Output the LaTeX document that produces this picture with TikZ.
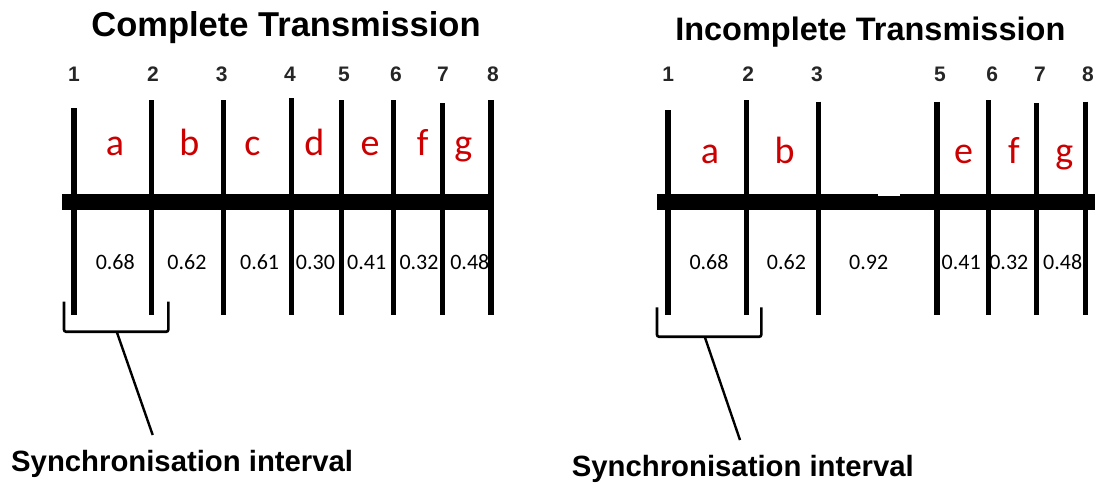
\documentclass[tikz,border=0pt]{standalone}
\usepackage{fontspec}
\setmainfont{Liberation Sans}
\newfontfamily\calib{Carlito}
\definecolor{redlbl}{RGB}{204,0,0}
\begin{document}
\begin{tikzpicture}[x=1pt,y=-1pt,
  tick/.style={line width=5.5pt},
  bar/.style={line width=16pt},
  thinbar/.style={line width=14pt},
  brk/.style={line width=2.6pt, rounded corners=2pt},
  lead/.style={line width=2.4pt},
  lab/.style={font=\bfseries\fontsize{21}{24}\selectfont, text=black!85, inner sep=0pt},
  seg/.style={font=\calib\fontsize{38}{44}\selectfont, text=redlbl, inner sep=0pt, anchor=base},
  val/.style={font=\calib\fontsize{22}{26}\selectfont, inner sep=0pt},
  ttl/.style={font=\bfseries, inner sep=0pt, anchor=base},
  sync/.style={font=\bfseries\fontsize{29.3}{34}\selectfont, inner sep=0pt, anchor=base west}]
\useasboundingbox (0,0) rectangle (1095,482);
\clip (0,0) rectangle (1095,482);

% ---------- Complete Transmission ----------
\node[ttl, font=\bfseries\fontsize{34.5}{40}\selectfont] (t1) at (286,36.7) {Complete Transmission};
\foreach \x/\t/\n in {74/108.3/1, 151.7/100/2, 223.3/100/3, 291.7/98.3/4, 341.7/100/5, 393.3/100/6, 442.3/103.3/7, 491/100/8}{
  \draw[tick] (\x,\t) -- (\x,315);
}
\draw[bar] (62.4,202) -- (494,202);
\foreach \x/\n in {74/1, 153/2, 221.7/3, 290/4, 344/5, 396/6, 443/7, 493/8}{
  \node[lab] (L\n) at (\x,74) {\n};
}
\foreach \x/\s in {115/a, 189.3/b, 252.3/c, 314.3/d, 370/e, 422.7/f, 463.3/g}{
  \node[seg] (S\s) at (\x,155) {\s};
}
\foreach \x/\v/\k in {115.3/0.68/1, 187/0.62/2, 259.6/0.61/3, 315.4/0.30/4, 366.7/0.41/5, 419/0.32/6, 469.8/0.48/7}{
  \node[val] (V\k) at (\x,262) {\v};
}
\draw[brk] (64,301.7) -- (64,331.7) -- (168.3,331.7) -- (168.3,301.7);
\coordinate (bL) at (116.7,331.7);
\coordinate (eL) at (152.7,435);
\draw[lead] (bL) -- (eL);
\node[sync] (syncL) at (11,471.7) {Synchronisation interval};

% ---------- Incomplete Transmission ----------
\node[ttl, font=\bfseries\fontsize{32.5}{38}\selectfont] (t2) at (870.3,40) {Incomplete Transmission};
\foreach \x/\t in {668.2/110, 746.4/100, 818.7/101.7, 936.9/101.7, 988.6/100, 1036.6/103.3, 1085.3/101.7}{
  \draw[tick] (\x,\t) -- (\x,315);
}
\draw[bar] (657,202) -- (878,202);
\draw[thinbar] (877,203) -- (901,203);
\draw[bar] (900,202) -- (1095,202);
\foreach \x/\n in {668.2/1, 748.1/2, 816.9/3, 940/5, 992.1/6, 1040/7, 1088/8}{
  \node[lab] (R\n) at (\x,74) {\n};
}
\foreach \x/\s in {709.9/a, 784.6/b, 963.6/e, 1014/f, 1064.4/g}{
  \node[seg] (T\s) at (\x,163) {\s};
}
\foreach \x/\v/\k in {709/0.68/1, 786.4/0.62/2, 868.7/0.92/3, 961.2/0.41/5, 1008.8/0.32/6, 1062.7/0.48/7}{
  \node[val] (W\k) at (\x,262) {\v};
}
\draw[brk] (657,307.3) -- (657,336.7) -- (761.3,336.7) -- (761.3,307.3);
\coordinate (bR) at (704.7,336.7);
\coordinate (eR) at (740,440);
\draw[lead] (bR) -- (eR);
\node[sync] (syncR) at (571.7,476.7) {Synchronisation interval};
\end{tikzpicture}
\end{document}
